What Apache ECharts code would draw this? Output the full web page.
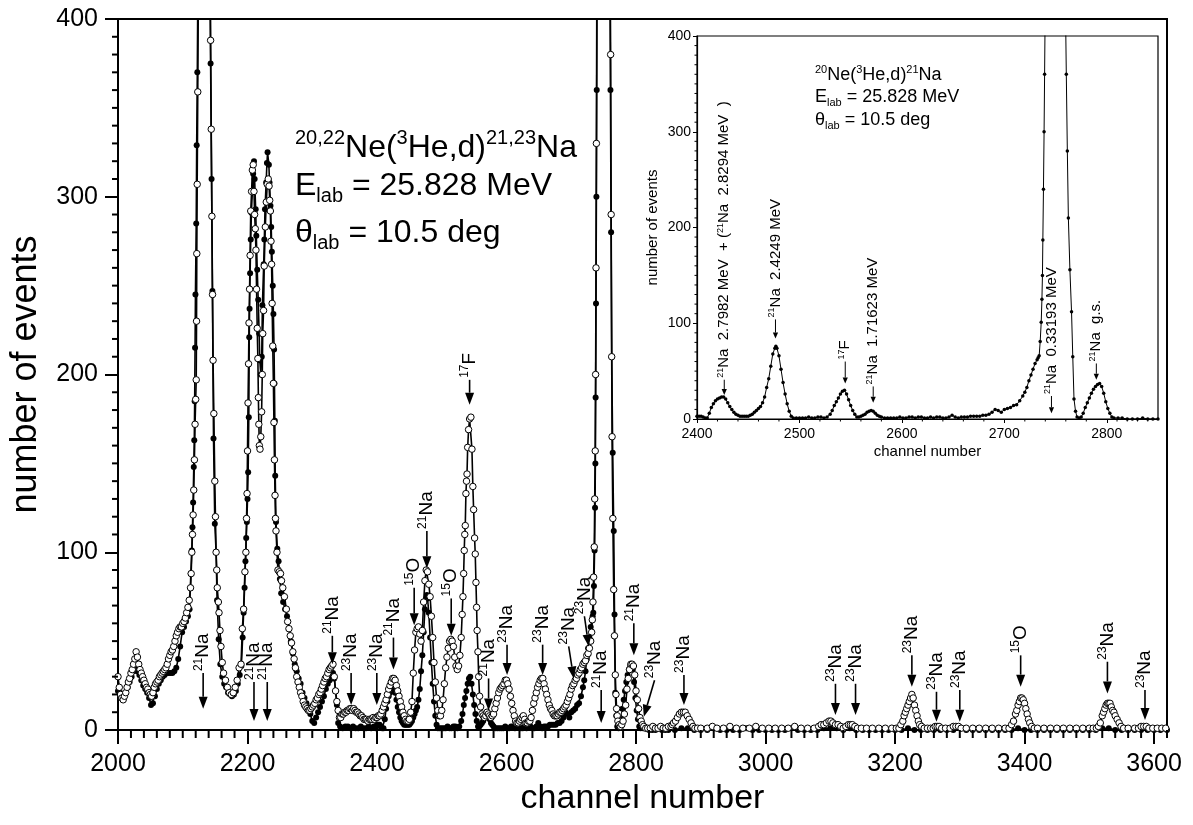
<!DOCTYPE html>
<html>
<head>
<meta charset="utf-8">
<script src="https://cdn.jsdelivr.net/npm/echarts@6/dist/echarts.min.js"></script>
<style>
html, body { margin: 0; padding: 0; background: #fff; }
#chart { width: 1193px; height: 825px; }
</style>
</head>
<body>
<div id="chart"></div>
<script>
// open circles, [channel, counts]
var openLow = [[2000,30],[2002,24],[2004,20],[2006,18],[2008,17],[2010,19],[2012,21],[2014,24],[2016,27],[2018,29],[2020,32],[2022,34],[2024,37],[2026,40],[2028,44],[2030,41],[2032,37],[2034,34],[2036,32],[2038,30],[2040,28],[2042,26],[2044,24],[2046,23],[2048,21],[2050,20],[2052,19],[2054,21],[2056,24],[2058,26],[2060,27],[2062,28],[2064,30],[2066,31],[2068,32],[2070,33],[2072,34],[2074,35],[2076,37],[2078,40],[2080,42],[2082,44],[2084,45],[2086,47],[2088,50],[2090,53],[2092,55],[2094,57],[2096,58],[2098,58],[2100,60],[2102,61],[2104,63],[2106,66],[2108,69],[2110,73],[2112,80],[2113,88],[2114,100],[2115,110],[2116,121],[2117,135],[2118,152],[2119,172],[2120,186],[2120.8,197],[2121.3,230],[2121.7,268],[2122.3,307],[2123.2,359],[2124.2,420],[2126,560],[2129,720],[2132,780],[2136,700],[2140,520],[2142.5,420],[2143,388],[2144,338],[2145,289],[2146,245],[2146.8,208],[2148,178],[2149.5,140],[2150.5,120],[2151.5,100],[2152.5,90],[2153.3,80],[2155,72],[2156,66],[2157.5,56],[2159,47],[2161,38],[2163,32],[2166,28],[2169,24],[2172,21],[2175,20],[2178,21],[2181,24],[2184,28],[2187,35],[2190,37],[2192,57],[2194,68],[2196,89],[2197.5,100],[2198.5,119],[2199.3,133],[2200,157],[2200.8,184],[2201.6,206],[2202.3,229],[2203.2,248],[2204,267],[2205,292],[2206.3,303],[2207.5,315],[2208.8,318],[2210,303],[2211,290],[2212,282],[2213,270],[2214,248],[2215,226],[2216,209],[2216.8,187],[2217.5,172],[2218.3,160],[2219.3,158],[2220.5,165],[2221.8,179],[2222.8,200],[2223.5,223],[2224.8,236],[2225.8,261],[2227.5,283],[2229,297],[2230.5,307],[2232,310],[2233.3,306],[2234.3,298],[2235.3,292],[2236.3,275],[2237.2,262],[2238,240],[2239,216],[2240,195],[2240.8,173],[2241.6,152],[2242.5,132],[2243.2,119],[2244,112],[2245.5,100],[2247,90],[2249,89],[2251,88],[2252.5,84],[2254.5,80],[2257,75],[2260,68],[2262,61],[2264,57],[2266,53],[2268,49],[2270,44],[2272,40],[2274,35],[2276,30],[2278,27],[2280,24],[2282,21],[2284,19],[2286,16],[2288,14],[2290,13],[2292,12],[2294,11],[2296,11],[2298,12],[2300,13]];
var openMid = [[2302,14],[2304,15],[2306,17],[2308,18],[2310,20],[2312,21],[2314,23],[2316,25],[2318,27],[2320,29],[2322,30],[2324,32],[2326,34],[2328,35],[2330,36],[2332,37],[2334,30],[2336,22],[2338,16],[2340,11],[2342,7],[2344,7],[2346,9],[2348,9],[2350,10],[2352,10],[2354,11],[2356,11],[2358,12],[2360,12],[2362,11],[2364,12],[2366,11],[2368,10],[2370,10],[2372,9],[2374,8],[2376,8],[2378,7],[2380,6],[2382,6],[2384,6],[2386,5],[2388,6],[2390,6],[2392,6],[2394,7],[2396,6],[2398,7],[2400,7],[2402,8],[2404,8],[2406,9],[2408,11],[2410,13],[2412,15],[2414,17],[2416,20],[2418,23],[2420,25],[2422,27],[2424,29],[2426,29],[2428,28],[2430,25],[2432,22],[2434,19],[2436,16],[2438,13],[2440,10],[2442,8],[2444,6],[2446,5],[2448,5],[2450,6],[2452,10],[2454,16],[2456,32],[2458,45],[2460,55],[2462,57],[2464,58],[2466,54],[2468,50],[2470,56],[2472,72],[2474,84],[2476,90],[2478,89],[2480,82],[2482,75],[2484,64],[2486,52],[2488,38],[2490,27],[2492,18],[2494,11],[2496,8],[2498,8],[2500,11],[2502,17],[2504,26],[2506,35],[2508,41],[2510,46],[2512,50],[2514,51],[2516,50],[2518,47],[2520,41],[2522,36],[2524,34],[2526,36],[2528,42],[2530,52],[2531.5,65],[2532.7,75],[2533.8,88],[2534.7,101],[2535.5,110],[2536.3,115],[2537.3,133],[2538.2,140],[2539,144],[2540,159],[2541.4,169],[2543,175],[2545,176],[2546.6,158],[2548,137],[2549.2,124],[2550.7,108],[2551.7,99],[2552.8,83],[2553.8,69],[2554.6,56],[2555.9,44],[2557,30],[2558.4,19],[2560,13],[2562,9],[2564,8],[2566,7],[2568,8],[2570,10],[2572,9],[2574,8],[2576,7],[2578,8],[2580,9],[2582,12],[2584,15],[2586,18],[2588,21],[2590,23],[2592,24],[2594,25],[2596,26],[2598,28],[2600,28],[2602,26],[2604,23],[2606,19],[2608,15],[2610,11],[2612,8],[2614,5],[2616,4],[2618,4],[2620,5],[2622,6],[2624,7],[2626,8],[2628,6],[2630,4],[2632,4],[2634,5],[2636,5],[2638,7],[2640,11],[2642,15],[2644,18],[2646,21],[2648,24],[2650,26],[2652,28],[2654,29],[2656,29],[2658,26],[2660,23],[2662,20],[2664,17],[2666,14],[2668,12],[2670,11],[2672,9],[2674,8],[2676,8],[2678,8],[2680,9],[2682,10],[2684,10],[2686,11],[2688,12],[2690,13],[2692,14],[2694,16],[2696,18],[2698,20],[2700,23],[2702,25],[2704,26],[2706,28],[2708,29],[2710,31],[2712,32],[2714,34],[2716,35],[2718,37],[2720,38],[2722,39],[2724,42],[2726,43],[2728,46],[2730,50],[2731.5,55],[2732.5,62],[2733.5,72],[2734.5,86],[2735.5,103],[2736.2,130],[2737,157],[2737.6,200],[2738.2,260],[2738.8,330],[2739.4,410],[2744,650],[2750,860],[2756,640],[2760,430],[2760.8,380],[2761.6,290],[2762.4,210],[2763,165],[2764.2,119],[2765.5,79],[2766.7,53],[2768,31],[2769,20],[2770,12],[2771,8],[2772,5],[2774,3],[2776,2],[2778,3],[2780,5],[2782,9],[2784,14],[2786,23],[2788,29],[2790,34],[2792,37],[2794,37],[2796,36],[2798,31],[2800,22],[2802,17],[2804,12],[2806,7],[2808,5],[2810,3],[2812,2],[2815,1],[2818,1],[2822,1],[2826,2],[2830,1],[2834,1],[2838,2],[2842,1],[2846,1],[2850,2],[2854,2],[2856,3],[2858,4],[2861,5],[2864,7],[2867,9],[2870,10],[2873,10],[2876,10],[2879,8],[2882,6],[2885,4],[2888,2],[2891,1],[2895,1]];
var openHigh = [[2900,1],[2910,1],[2918,2],[2925,1],[2935,1],[2945,2],[2955,1],[2965,1],[2975,1],[2985,2],[2995,1],[3005,1],[3015,1],[3025,1],[3035,1],[3045,2],[3055,1],[3065,1],[3075,1],[3082,2],[3086,3],[3090,3],[3094,4],[3098,5],[3101,5],[3104,4],[3108,3],[3112,3],[3116,2],[3120,1],[3124,2],[3128,3],[3131,3],[3134,3],[3138,2],[3142,1],[3148,1],[3156,1],[3165,1],[3175,1],[3185,1],[3195,1],[3202,1],[3206,1],[3209,3],[3212,5],[3214,8],[3216,10],[3218,12],[3220,14],[3222,16],[3224,18],[3226,20],[3228,18],[3230,14],[3232,11],[3234,8],[3236,5],[3238,3],[3241,2],[3245,1],[3250,1],[3255,1],[3259,1],[3262,2],[3265,2],[3268,2],[3272,1],[3278,1],[3285,1],[3290,2],[3294,2],[3298,2],[3302,1],[3310,1],[3320,1],[3330,1],[3340,1],[3350,1],[3360,1],[3370,1],[3376,1],[3380,3],[3383,5],[3386,9],[3388,11],[3390,14],[3392,16],[3394,18],[3396,18],[3398,17],[3400,15],[3402,12],[3404,9],[3406,6],[3408,4],[3411,2],[3415,1],[3420,1],[3430,1],[3440,1],[3450,1],[3460,1],[3470,1],[3480,1],[3490,1],[3500,1],[3506,1],[3511,1],[3514,2],[3517,4],[3520,8],[3522,10],[3524,12],[3526,14],[3528,15],[3530,15],[3532,15],[3534,13],[3536,11],[3538,10],[3540,8],[3543,6],[3546,4],[3549,2],[3553,1],[3560,1],[3570,1],[3576,1],[3580,2],[3584,2],[3588,2],[3592,1],[3598,1],[3605,1],[3612,1],[3618,1]];

// filled dots (20Ne target); filledMid is also the inset spectrum
var filledLow = [[2000,22],[2003,21],[2006,19],[2009,18],[2012,21],[2015,24],[2018,27],[2021,30],[2024,33],[2027,35],[2030,33],[2033,31],[2036,28],[2039,25],[2042,23],[2045,21],[2048,18],[2051,14],[2054,15],[2057,19],[2060,23],[2063,26],[2066,28],[2069,30],[2072,31],[2075,32],[2078,32],[2081,32],[2084,32],[2087,33],[2090,35],[2093,40],[2096,47],[2099,55],[2102,58],[2105,61],[2108,64],[2110.5,68],[2112.5,88],[2114,101],[2115,114],[2116,128],[2117,148],[2117.8,163],[2118.4,185],[2119,215],[2119.6,245],[2120.8,285],[2121.5,329],[2122.5,370],[2123.5,430],[2127,650],[2131,760],[2136,690],[2140,500],[2142.3,410],[2143,375],[2144.5,310],[2145.8,247],[2147.5,164],[2149.5,116],[2151.5,100],[2153,73],[2155.5,51],[2158,37],[2161,30],[2164,26],[2167,24],[2170,21],[2173,20],[2176,19],[2179,20],[2182,22],[2185,26],[2188,31],[2190.5,36],[2192.5,52],[2194,66],[2195.5,80],[2196.8,95],[2198,108],[2199,117],[2200,130],[2201,145],[2202,176],[2202.7,221],[2203.2,237],[2204,257],[2205,276],[2206,291],[2207.5,303],[2208.7,313],[2210,320],[2211,310],[2212.6,293],[2213.6,278],[2215,259],[2216.5,242],[2218,223],[2219,208],[2220.5,200],[2222,210],[2223,239],[2225,262],[2226,276],[2227,293],[2228.8,308],[2230,319],[2231,325],[2233,318],[2234,308],[2235.5,295],[2236.6,283],[2237.6,269],[2239,250],[2240,234],[2241,214],[2241.6,195],[2242.2,174],[2242.8,143],[2244,117],[2246,102],[2248,95],[2250,85],[2252,77],[2255,72],[2258,68],[2261,64],[2264,57],[2267,50],[2270,43],[2273,37],[2276,33],[2279,29],[2282,26],[2285,21],[2288,18],[2291,15],[2294,12],[2297,9],[2300,5],[2303,4],[2306,7],[2309,10],[2312,13],[2315,16],[2318,19],[2321,23],[2324,26],[2327,28],[2330,31],[2332,32],[2334,29],[2336,22],[2338,14],[2340,4],[2343,2],[2347,1],[2351,2],[2355,2],[2359,1],[2363,2],[2367,1],[2371,1],[2375,2],[2379,1],[2383,1],[2387,2],[2391,1],[2395,2],[2398,1]];
var filledMid = [[2400,3],[2402,3],[2404,3],[2406,2],[2408,1],[2410,1],[2412,6],[2414,12],[2416,16],[2418,19],[2420,21],[2422,22],[2424,23],[2426,23],[2428,21],[2430,17],[2432,13],[2434,10],[2436,7],[2438,5],[2440,4],[2442,3],[2444,3],[2446,3],[2448,3],[2450,3],[2452,4],[2454,5],[2456,7],[2458,9],[2460,11],[2462,13],[2464,17],[2466,23],[2468,33],[2470,42],[2472,55],[2474,68],[2476,74],[2477,76],[2478,74],[2480,66],[2482,52],[2484,38],[2486,26],[2488,16],[2490,8],[2492,3],[2494,1],[2497,1],[2500,1],[2503,1],[2506,1],[2509,2],[2512,1],[2515,1],[2518,2],[2521,2],[2524,1],[2527,2],[2530,5],[2532,9],[2534,14],[2536,18],[2538,22],[2540,26],[2542,29],[2544,30],[2546,26],[2548,20],[2550,14],[2552,9],[2554,5],[2556,2],[2558,2],[2560,3],[2562,4],[2564,5],[2566,7],[2568,8],[2570,9],[2572,8],[2574,6],[2576,4],[2578,3],[2580,2],[2583,1],[2586,1],[2589,1],[2592,1],[2595,1],[2598,2],[2601,1],[2604,1],[2607,2],[2610,2],[2613,1],[2616,2],[2619,2],[2622,1],[2625,1],[2628,2],[2631,1],[2634,2],[2637,2],[2640,1],[2643,1],[2646,2],[2649,4],[2652,2],[2655,1],[2658,2],[2661,2],[2664,2],[2667,3],[2670,3],[2673,3],[2676,3],[2679,4],[2682,4],[2685,5],[2688,7],[2691,10],[2694,9],[2697,7],[2700,10],[2703,11],[2706,12],[2709,14],[2712,15],[2715,19],[2718,24],[2720,28],[2722,33],[2724,40],[2726,46],[2728,52],[2730,58],[2732,62],[2733,64],[2734,66],[2735,81],[2736,101],[2736.7,125],[2737.2,150],[2737.6,187],[2738.2,240],[2738.8,300],[2739.3,360],[2739.8,420],[2745,700],[2750,880],[2755,640],[2759.8,420],[2760.5,360],[2761.5,280],[2762.5,210],[2764,156],[2765.6,112],[2766.8,65],[2768,21],[2769.5,8],[2771,2],[2773,1],[2775,2],[2777,6],[2779,12],[2781,17],[2783,22],[2785,27],[2787,31],[2789,34],[2791,36],[2793,37],[2795,34],[2797,27],[2799,18],[2801,11],[2803,6],[2805,2],[2807,1],[2811,1],[2815,1],[2820,0],[2825,0],[2830,0],[2835,1],[2840,0],[2845,0],[2850,0]];
var filledHigh = [[2860,0],[2870,1],[2880,1],[2890,0],[2900,0],[2910,0],[2920,1],[2930,0],[2940,0],[2950,0],[2960,0],[2970,1],[2980,0],[2990,0],[3000,0],[3010,0],[3020,0],[3030,0],[3040,1],[3050,0],[3060,0],[3070,0],[3080,0],[3090,1],[3100,1],[3110,1],[3120,0],[3130,1],[3140,0],[3150,0],[3160,0],[3170,0],[3180,0],[3190,0],[3200,0],[3210,0],[3220,1],[3230,0],[3240,0],[3250,0],[3260,0],[3270,0],[3280,0],[3290,0],[3300,1],[3310,0],[3320,0],[3330,0],[3340,0],[3350,0],[3360,0],[3370,0],[3380,0],[3390,1],[3400,0],[3410,0],[3420,0],[3430,0],[3440,0],[3450,0],[3460,0],[3470,0],[3480,0],[3490,0],[3500,0],[3510,0],[3520,1],[3530,1],[3540,0],[3550,0],[3560,0],[3570,0],[3580,0],[3590,0],[3600,0],[3610,0],[3620,0]];

// minor tick positions
var minorTicksX = [2020,2040,2060,2080,2100,2120,2140,2160,2180,2220,2240,2260,2280,2300,2320,2340,2360,2380,2420,2440,2460,2480,2500,2520,2540,2560,2580,2620,2640,2660,2680,2700,2720,2740,2760,2780,2820,2840,2860,2880,2900,2920,2940,2960,2980,3020,3040,3060,3080,3100,3120,3140,3160,3180,3220,3240,3260,3280,3300,3320,3340,3360,3380,3420,3440,3460,3480,3500,3520,3540,3560,3580,3620];
var minorTicksY = [10,20,30,40,50,60,70,80,90,110,120,130,140,150,160,170,180,190,210,220,230,240,250,260,270,280,290,310,320,330,340,350,360,370,380,390];
var insetMinorX = [2420,2440,2460,2480,2520,2540,2560,2580,2620,2640,2660,2680,2720,2740,2760,2780,2810,2820,2830,2840];

// arrows of the main panel: [mass, element, tipChannel, tipCounts, tailChannel, tailCounts]
var mainArrows = [
  ['21','Na',2131.5,12,2131.5,32],
  ['21','Na',2210,5,2210,27],
  ['21','Na',2230.5,5,2230.5,27],
  ['21','Na',2331,37,2331,53],
  ['23','Na',2360,14,2360,32],
  ['23','Na',2399.7,14,2399.7,32],
  ['21','Na',2425.4,34,2425.4,52],
  ['15','O',2457.4,59,2457.4,80],
  ['21','Na',2477,91,2477,112],
  ['15','O',2514.6,53,2514.6,74],
  ['17','F',2543,183,2543,197],
  ['21','Na',2572.3,11,2572.3,29],
  ['23','Na',2600.8,31,2600.8,48],
  ['23','Na',2655.8,31,2655.8,48],
  ['23','Na',2703.8,29,2696,47],
  ['23','Na',2727,47,2720.3,64],
  ['21','Na',2746.2,4,2746.2,22.5],
  ['21','Na',2796.6,42,2796.6,60],
  ['23','Na',2812,7.5,2828.6,28],
  ['23','Na',2874,14,2874,31],
  ['23','Na',3108,8.4,3108,26],
  ['23','Na',3139,8.4,3139,26],
  ['23','Na',3226,24.4,3226,42],
  ['23','Na',3264,4.7,3264,21.5],
  ['23','Na',3300,4.7,3300,22.5],
  ['15','O',3394,24.4,3394,42],
  ['23','Na',3528,20.6,3528,38.4],
  ['23','Na',3586,5.6,3586,22.5]
];

// arrows of the inset: [label parts, tipChannel, tipCounts, tailChannel, tailCounts]
var insetArrows = [
  [['21','Na  2.7982 MeV  + (','21','Na  2.8294 MeV  )'],2426.6,25,2426.6,41],
  [['21','Na  2.4249 MeV'],2476.6,84,2476.6,104],
  [['17','F'],2544.7,37,2544.7,60],
  [['21','Na  1.71623 MeV'],2572,17,2572,34],
  [['21','Na  0.33193 MeV'],2746,6,2746,24],
  [['21','Na  g.s.'],2789.8,41,2789.8,58]
];

var FONT = "'Liberation Sans', Arial, sans-serif";

function labelText(parts) {
  var s = '';
  for (var i = 0; i < parts.length; i += 2) {
    s += '{s|' + parts[i] + '}{e|' + parts[i + 1] + '}';
  }
  return s;
}

function arrowRenderer(list, big) {
  return function (params, api) {
    var a = list[params.dataIndex];
    var off = big ? 2 : 1;
    var tip = api.coord([a[off], a[off + 1]]);
    var tail = api.coord([a[off + 2], a[off + 3]]);
    var dx = tip[0] - tail[0], dy = tip[1] - tail[1];
    var len = Math.sqrt(dx * dx + dy * dy);
    var ux = dx / len, uy = dy / len;
    var hl = big ? 12 : 6, hw = big ? 4.5 : 2.6;
    var bx = tip[0] - ux * hl, by = tip[1] - uy * hl;
    var parts = big ? [a[0], a[1]] : a[0];
    var rich = big
      ? { s: { fontSize: 12, lineHeight: 12, verticalAlign: 'top', fontFamily: FONT, fill: '#000' },
          e: { fontSize: 19, lineHeight: 21, fontFamily: FONT, fill: '#000' } }
      : { s: { fontSize: 9, lineHeight: 9, verticalAlign: 'top', fontFamily: FONT, fill: '#000' },
          e: { fontSize: 15, lineHeight: 16, fontFamily: FONT, fill: '#000' } };
    return {
      type: 'group',
      children: [
        { type: 'line', shape: { x1: tail[0], y1: tail[1], x2: bx, y2: by },
          style: { stroke: '#000', lineWidth: big ? 1.6 : 1 } },
        { type: 'polygon', shape: { points: [[tip[0], tip[1]], [bx - uy * hw, by + ux * hw], [bx + uy * hw, by - ux * hw]] },
          style: { fill: '#000' } },
        { type: 'text', x: tail[0], y: tail[1] - 2, rotation: Math.PI / 2,
          style: { text: labelText(parts), rich: rich, align: 'left', verticalAlign: 'middle' } }
      ]
    };
  };
}

// small outward ticks, placed through the axis scales
function tickSeries(xi, yi, values, xMin, dir, len, width) {
  return {
    type: 'custom', xAxisIndex: xi, yAxisIndex: yi, z: 6, silent: true, clip: false,
    data: values.map(function (v) { return dir === 'x' ? [v, 0] : [xMin, v]; }),
    renderItem: function (params, api) {
      var p = api.coord([api.value(0), api.value(1)]);
      var shape = dir === 'x'
        ? { x: p[0] - width / 2, y: p[1], width: width, height: len }
        : { x: p[0] - len, y: p[1] - width / 2, width: len, height: width };
      return { type: 'rect', shape: shape, style: { fill: '#000' } };
    }
  };
}

function plainNumber(v) { return String(v); }

var chart = echarts.init(document.getElementById('chart'));

var option = {
  animation: false,
  backgroundColor: '#fff',
  grid: [
    { left: 118, top: 19, right: 26, bottom: 95, show: true, borderColor: '#000', borderWidth: 2 },
    { left: 697, top: 36, right: 35, bottom: 406, show: true, borderColor: '#000', borderWidth: 1.2 }
  ],
  xAxis: [
    { gridIndex: 0, type: 'value', min: 2000, max: 3620, interval: 200,
      name: 'channel number', nameLocation: 'middle', nameGap: 50,
      nameTextStyle: { fontSize: 34, fontFamily: FONT, color: '#000' },
      axisLine: { show: true, lineStyle: { color: '#000', width: 2 } },
      axisTick: { show: true, length: 14, lineStyle: { color: '#000', width: 2 } },
      axisLabel: { fontSize: 25, margin: 22, showMaxLabel: false, formatter: plainNumber, fontFamily: FONT, color: '#000' },
      splitLine: { show: false } },
    { gridIndex: 1, type: 'value', min: 2400, max: 2850, interval: 100,
      name: 'channel number', nameLocation: 'middle', nameGap: 25,
      nameTextStyle: { fontSize: 15, fontFamily: FONT, color: '#000' },
      axisLine: { show: true, lineStyle: { color: '#000', width: 1.2 } },
      axisTick: { show: true, length: 4, lineStyle: { color: '#000', width: 1 } },
      axisLabel: { fontSize: 14, margin: 8, showMaxLabel: false, formatter: plainNumber, fontFamily: FONT, color: '#000' },
      splitLine: { show: false } }
  ],
  yAxis: [
    { gridIndex: 0, type: 'value', min: 0, max: 400, interval: 100,
      name: 'number of events', nameLocation: 'middle', nameGap: 74, nameRotate: 90,
      nameTextStyle: { fontSize: 36, fontFamily: FONT, color: '#000' },
      axisLine: { show: true, lineStyle: { color: '#000', width: 2 } },
      axisTick: { show: true, length: 13, lineStyle: { color: '#000', width: 2 } },
      axisLabel: { fontSize: 25, margin: 20, formatter: plainNumber, fontFamily: FONT, color: '#000' },
      splitLine: { show: false } },
    { gridIndex: 1, type: 'value', min: 0, max: 400, interval: 100,
      name: 'number of events', nameLocation: 'middle', nameGap: 37, nameRotate: 90,
      nameTextStyle: { fontSize: 15, fontFamily: FONT, color: '#000' },
      axisLine: { show: true, lineStyle: { color: '#000', width: 1.2 } },
      axisTick: { show: true, length: 4, lineStyle: { color: '#000', width: 1 } },
      axisLabel: { fontSize: 14, margin: 6, formatter: plainNumber, fontFamily: FONT, color: '#000' },
      splitLine: { show: false } }
  ],
  series: [
    { type: 'line', name: 'filled', xAxisIndex: 0, yAxisIndex: 0,
      data: filledLow.concat(filledMid, filledHigh),
      symbol: 'circle', symbolSize: 6, showAllSymbol: true,
      lineStyle: { color: '#000', width: 1.6 },
      itemStyle: { color: '#000', borderColor: '#000', borderWidth: 0 } },
    { type: 'line', name: 'open', xAxisIndex: 0, yAxisIndex: 0,
      data: openLow.concat(openMid, openHigh),
      symbol: 'circle', symbolSize: 6.5, showAllSymbol: true,
      lineStyle: { color: '#000', width: 1.6 },
      itemStyle: { color: '#fff', borderColor: '#000', borderWidth: 1 } },
    { type: 'line', name: 'inset', xAxisIndex: 1, yAxisIndex: 1,
      data: filledMid,
      symbol: 'circle', symbolSize: 3.5, showAllSymbol: true,
      lineStyle: { color: '#000', width: 1 },
      itemStyle: { color: '#000', borderWidth: 0 } },
    { type: 'custom', xAxisIndex: 0, yAxisIndex: 0, z: 5,
      data: mainArrows.map(function (a) { return [a[2], a[3], a[4], a[5]]; }),
      renderItem: arrowRenderer(mainArrows, true) },
    { type: 'custom', xAxisIndex: 1, yAxisIndex: 1, z: 5,
      data: insetArrows.map(function (a) { return [a[1], a[2], a[3], a[4]]; }),
      renderItem: arrowRenderer(insetArrows, false) },
    tickSeries(0, 0, minorTicksX, 2000, 'x', 8, 2),
    tickSeries(0, 0, minorTicksY, 2000, 'y', 6, 2),
    tickSeries(1, 1, insetMinorX, 2400, 'x', 2.5, 1),
    tickSeries(1, 1, minorTicksY, 2400, 'y', 2.5, 1)
  ],
  graphic: [
    { type: 'text', left: 295, top: 128,
      style: { text: '{s|20,22}{m|Ne(}{s|3}{m|He,d)}{s|21,23}{m|Na}', fill: '#000',
        rich: { m: { fontSize: 32, lineHeight: 40, fontFamily: FONT },
                s: { fontSize: 20, lineHeight: 20, verticalAlign: 'top', fontFamily: FONT } } } },
    { type: 'text', left: 295, top: 170,
      style: { text: '{m|E}{b|lab}{m| = 25.828 MeV}', fill: '#000',
        rich: { m: { fontSize: 32, lineHeight: 40, fontFamily: FONT },
                b: { fontSize: 20, lineHeight: 10, verticalAlign: 'bottom', fontFamily: FONT } } } },
    { type: 'text', left: 295, top: 217,
      style: { text: '{m|\u03b8}{b|lab}{m| = 10.5 deg}', fill: '#000',
        rich: { m: { fontSize: 32, lineHeight: 40, fontFamily: FONT },
                b: { fontSize: 20, lineHeight: 10, verticalAlign: 'bottom', fontFamily: FONT } } } },
    { type: 'text', left: 815, top: 64,
      style: { text: '{s|20}{m|Ne(}{s|3}{m|He,d)}{s|21}{m|Na}', fill: '#000',
        rich: { m: { fontSize: 18, lineHeight: 22, fontFamily: FONT },
                s: { fontSize: 11, lineHeight: 11, verticalAlign: 'top', fontFamily: FONT } } } },
    { type: 'text', left: 815, top: 88,
      style: { text: '{m|E}{b|lab}{m| = 25.828 MeV}', fill: '#000',
        rich: { m: { fontSize: 18, lineHeight: 22, fontFamily: FONT },
                b: { fontSize: 11, lineHeight: 6, verticalAlign: 'bottom', fontFamily: FONT } } } },
    { type: 'text', left: 815, top: 111,
      style: { text: '{m|\u03b8}{b|lab}{m| = 10.5 deg}', fill: '#000',
        rich: { m: { fontSize: 18, lineHeight: 22, fontFamily: FONT },
                b: { fontSize: 11, lineHeight: 6, verticalAlign: 'bottom', fontFamily: FONT } } } }
  ]
};

chart.setOption(option);
</script>
</body>
</html>
